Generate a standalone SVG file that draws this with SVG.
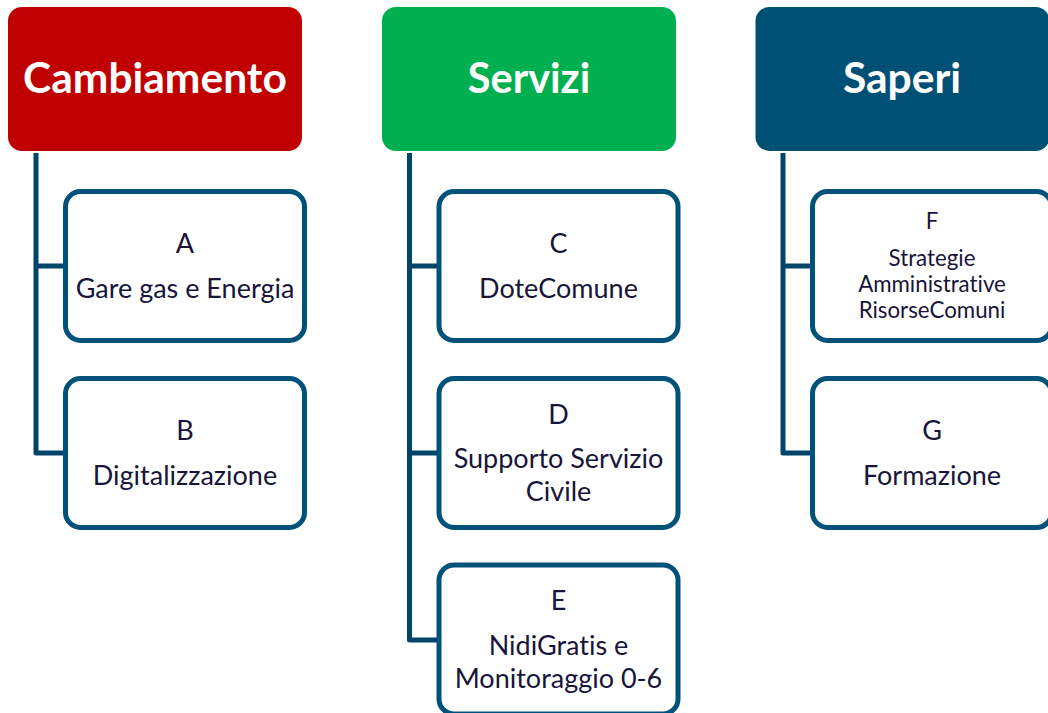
<svg xmlns="http://www.w3.org/2000/svg" width="1048" height="713" viewBox="0 0 1048 713">
<style>
text{font-family:"Lato","Open Sans","Liberation Sans",sans-serif;text-anchor:middle;fill:#17153a;font-variant-ligatures:none}
.h{font-size:42.500px;font-weight:700;fill:#fff}
.c{fill:#fff;stroke:#00527a;stroke-width:5}
.t{font-size:27px}
.s{font-size:22.300px}
.l{fill:none;stroke:#004568;stroke-width:5;stroke-linejoin:round}
</style>
<rect width="1048" height="713" fill="#fff"/>
<g id="connectors">
<path class="l" d="M36 153V453H65M36 266H65"/>
<path class="l" d="M409.500 153V640H439M409.500 266H439M409.500 453H439"/>
<path class="l" d="M783 153V453H812M783 266H812"/>
</g>
<g id="cambiamento"><rect x="8" y="7" width="294" height="144" rx="14" fill="#c00000"/><text class="h" x="155" y="93">Cambiamento</text></g>
<g id="servizi"><rect x="382" y="7" width="294" height="144" rx="14" fill="#00b050"/><text class="h" x="529" y="93" font-size="41.500" style="font-size:41.500px">Servizi</text></g>
<g id="saperi"><rect x="755.500" y="7" width="294" height="144" rx="14" fill="#005076"/><text class="h" x="902" y="93">Saperi</text></g>
<g id="a"><rect class="c" x="65.500" y="191.500" width="239" height="149" rx="15"/><text class="t" x="185" y="253">A</text><text class="t" x="185" y="298">Gare gas e Energia</text></g>
<g id="b"><rect class="c" x="65.500" y="378.500" width="239" height="149" rx="15"/><text class="t" x="185" y="440">B</text><text class="t" x="185" y="485">Digitalizzazione</text></g>
<g id="c"><rect class="c" x="439" y="191.500" width="239" height="149" rx="15"/><text class="t" x="558.500" y="253">C</text><text class="t" x="558.500" y="298">DoteComune</text></g>
<g id="d"><rect class="c" x="439" y="378.500" width="239" height="149" rx="15"/><text class="t" x="558.500" y="424">D</text><text class="t" x="558.500" y="468">Supporto Servizio</text><text class="t" x="558.500" y="501">Civile</text></g>
<g id="e"><rect class="c" x="439" y="565" width="239" height="149" rx="15"/><text class="t" x="558.500" y="610">E</text><text class="t" x="558.500" y="655">NidiGratis e</text><text class="t" x="558.500" y="688">Monitoraggio 0-6</text></g>
<g id="f"><rect class="c" x="812.500" y="191.500" width="239" height="149" rx="15"/><text class="s" x="932" y="229">F</text><text class="s" x="932" y="266">Strategie</text><text class="s" x="932" y="292">Amministrative</text><text class="s" x="932" y="318">RisorseComuni</text></g>
<g id="g"><rect class="c" x="812.500" y="378.500" width="239" height="149" rx="15"/><text class="t" x="932" y="440">G</text><text class="t" x="932" y="485">Formazione</text></g>
</svg>
